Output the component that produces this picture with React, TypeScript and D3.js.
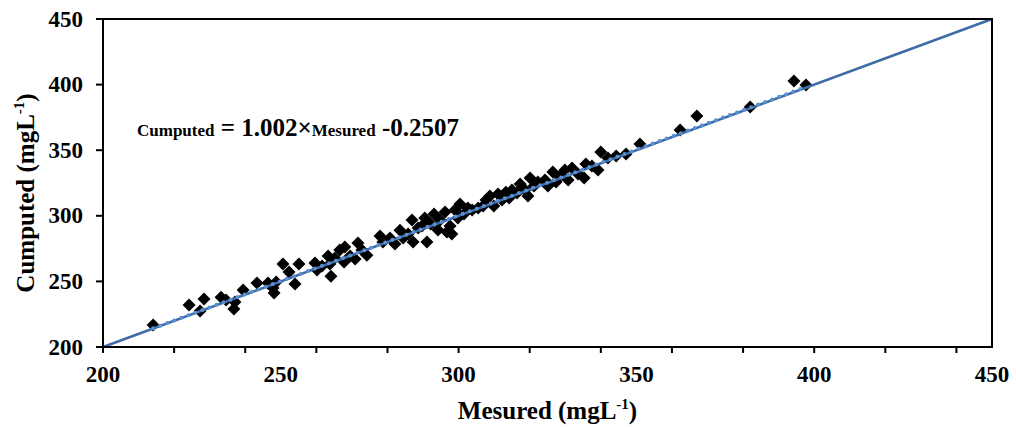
import React from "react";
import * as d3 from "d3";

const measured = [214.1,224.2,227.3,228.4,233.2,234.6,236.8,237.1,239.4,243.3,246.4,247.8,248.1,248.7,250.6,252.3,254,255.1,259.6,260.2,261.6,263.3,263.8,264.1,265.2,266.6,267.8,268,269.5,270.9,271.7,272.8,274.2,277.9,278.7,280.7,282.1,283.5,284.4,285.8,286.9,287.2,288.6,289.7,290.5,291.1,292.2,293.1,294.2,294.8,296.2,296.7,297.6,298.1,299,299.8,300.4,301.5,302.6,303.8,305.5,306.9,307.7,308.8,309.9,311.1,312.2,313.3,314.2,315,316.4,317.3,318.7,320.1,319.5,321.2,322.3,324.3,325.1,326.5,327.4,328.5,329.9,330.8,331.9,333.6,335.3,335.8,337.5,339.2,340,342,344.3,347.1,351,362.3,367,382,394.3,397.7];
const computed = [216.8,232,227.4,236.6,238,235.8,229,234.3,243.4,248.8,248.8,245,241.2,249.5,263.3,257.2,248,263.3,264,258.7,261.7,269.4,263.3,254,267.8,274,264.8,276.2,269.4,267,279.3,274,270,284.6,280,283,278.5,289,283,286.1,296.8,280,290.7,292.2,298.3,280,293.8,301.4,289.2,296.8,302.9,287.7,292.2,286.1,304.4,298.3,309,301.4,306,304.4,306,307.5,312,315,307.5,316.6,312,318,313.6,319.6,317.4,324.2,319.6,328.8,315,322.7,325.8,327.3,322.7,333.4,325.8,330.3,334.9,327.3,336.5,331.9,328.8,339.5,338,334.9,348.6,344,345.6,347.1,354.7,365.4,376,382.9,402.7,399.7];
const xTickLabels = [200, 250, 300, 350, 400, 450];
const yTickLabels = [200, 250, 300, 350, 400, 450];
const xMinorTicks = [200, 220, 240, 260, 280, 300, 320, 340, 360, 380, 400, 420, 440];
const slope = 1.002;
const intercept = -0.2507;

export default function App() {
  const W = 1016, H = 427;
  const left = 103, right = 992, top = 19, bottom = 347;
  const x = d3.scaleLinear().domain([200, 450]).range([left, right]);
  const y = d3.scaleLinear().domain([200, 450]).range([bottom, top]);
  const font = "'Liberation Serif', 'Times New Roman', serif";
  const xmin = d3.min(measured) as number;
  const xmax = d3.max(measured) as number;
  const line = d3.line<[number, number]>().x(d => x(d[0])).y(d => y(d[1]));
  const diamond = (cx: number, cy: number, r: number) =>
    `M${cx},${cy - r}L${cx + r},${cy}L${cx},${cy + r}L${cx - r},${cy}Z`;
  return (
    <svg width={W} height={H} style={{ position: "absolute", left: 0, top: 0 }} fontFamily={font}>
      <rect x={0} y={0} width={W} height={H} fill="#fff" />
      {measured.map((m, i) => (
        <path key={i} d={diamond(x(m), y(computed[i]), 6.5)} fill="#000" />
      ))}
      <path d={line([[200, 200], [450, 450]]) as string} stroke="#3d6ca6" strokeWidth={2.6} fill="none" />
      <path
        d={line([[xmin, slope * xmin + intercept], [xmax, slope * xmax + intercept]]) as string}
        stroke="#5a8fd2" strokeWidth={4} strokeDasharray="0 7.5" strokeLinecap="round" fill="none"
      />
      <rect x={left} y={top} width={right - left} height={bottom - top} fill="none" stroke="#000" strokeWidth={2} />
      {yTickLabels.map(v => (
        <g key={v}>
          <line x1={left - 7} x2={left} y1={y(v)} y2={y(v)} stroke="#000" strokeWidth={2} />
          <text x={left - 20} y={y(v) + 7.5} textAnchor="end" fontSize={23} fontWeight="bold">{v}</text>
        </g>
      ))}
      {xMinorTicks.map(v => (
        <line key={v} x1={x(v)} x2={x(v)} y1={bottom} y2={bottom + 6} stroke="#000" strokeWidth={2} />
      ))}
      {xTickLabels.map(v => (
        <text key={v} x={x(v)} y={382} textAnchor="middle" fontSize={23} fontWeight="bold">{v}</text>
      ))}
      <text x={x(325)} y={419} textAnchor="middle" fontSize={25} fontWeight="bold">
        Mesured (mgL<tspan dy={-10} fontSize={15}>-1</tspan><tspan dy={10}>)</tspan>
      </text>
      <text transform={`translate(34,${(top + bottom) / 2 + 10}) rotate(-90)`} textAnchor="middle" fontSize={25} fontWeight="bold">
        Cumputed (mgL<tspan dy={-10} fontSize={15}>-1</tspan><tspan dy={10}>)</tspan>
      </text>
      <text x={137} y={136} fontSize={25} fontWeight="bold">
        <tspan fontSize={17}>Cumputed</tspan>
        <tspan> = 1.002×</tspan>
        <tspan fontSize={17}>Mesured</tspan>
        <tspan> -0.2507</tspan>
      </text>
    </svg>
  );
}
